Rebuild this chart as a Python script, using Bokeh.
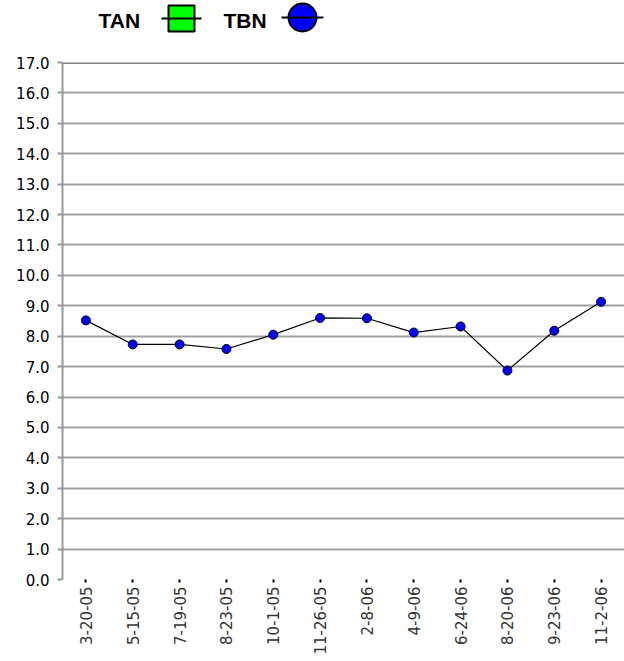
import math
from bokeh.plotting import figure
from bokeh.models import (FactorRange, Range1d, FixedTicker, Span,
                          NumeralTickFormatter, ColumnDataSource)
from bokeh.layouts import column
from bokeh.embed import file_html
from bokeh.resources import INLINE
from bokeh.core.properties import value

# ---- data ----
dates = ["3-20-05", "5-15-05", "7-19-05", "8-23-05", "10-1-05", "11-26-05",
         "2-8-06", "4-9-06", "6-24-06", "8-20-06", "9-23-06", "11-2-06"]
tbn = [8.52, 7.73, 7.73, 7.58, 8.05, 8.60, 8.59, 8.12, 8.32, 6.87, 8.18, 9.13]
tan = []  # no TAN readings in this chart
series_names = ["TAN", "TBN"]
series_fill = ["#00FF00", "#0000FF"]
series_marker = ["square", "circle"]
y_ticks = list(range(0, 18))

FONT = "DejaVu Sans"
W = 624
LEFT = 62
HDR_H = 40

# ---- header with legend keys (frame is aligned with the chart frame; x in page px) ----
hdr = figure(width=W, height=HDR_H, x_range=Range1d(LEFT, W), y_range=Range1d(HDR_H, 0),
             output_backend="svg", toolbar_location=None,
             min_border_left=LEFT, min_border_right=0,
             min_border_top=0, min_border_bottom=0)
hdr.axis.visible = False
hdr.grid.visible = False
hdr.outline_line_color = None

text_x = [98, 223]
key_x = [181, 302]
key_size = [26, 28]
key_half = [20, 21]
text_y = [20, 20]
key_y = [18, 17]
hdr.text(x=text_x, y=text_y, text=series_names, text_font=value("Liberation Sans"),
         text_font_style="bold", text_font_size="21px", text_baseline="middle",
         text_color="black")
hdr.scatter(x=key_x, y=key_y, marker=series_marker, size=key_size,
            fill_color=series_fill, line_color="black", line_width=2)
hdr.segment(x0=[k - h for k, h in zip(key_x, key_half)], y0=key_y,
            x1=[k + h for k, h in zip(key_x, key_half)], y1=key_y,
            line_color="black", line_width=2)

# ---- main chart ----
p = figure(x_range=FactorRange(*dates, range_padding=0), y_range=Range1d(0, 17),
           width=W, height=621, output_backend="svg", toolbar_location=None,
           min_border_left=LEFT, min_border_right=0, min_border_top=22, min_border_bottom=82)
p.outline_line_color = None
p.background_fill_color = "white"

# y axis
ya = p.yaxis[0]
ya.ticker = FixedTicker(ticks=y_ticks)
ya.formatter = NumeralTickFormatter(format="0.0")
ya.axis_line_color = "#999999"
ya.axis_line_width = 2
ya.major_tick_line_color = "#999999"
ya.major_tick_line_width = 2
ya.major_tick_out = 5
ya.major_tick_in = 0
ya.minor_tick_line_color = None
ya.major_label_text_font = FONT
ya.major_label_text_font_size = "15px"
ya.major_label_text_color = "black"
ya.major_label_standoff = 8

# x axis
xa = p.xaxis[0]
xa.axis_line_color = None
xa.major_tick_line_color = "black"
xa.major_tick_line_width = 2
xa.major_tick_out = 3
xa.major_tick_in = 0
xa.major_label_orientation = math.pi / 2
xa.major_label_text_font = FONT
xa.major_label_text_font_size = "15px"
xa.major_label_text_color = "#333333"
xa.major_label_standoff = 4

# grid
p.xgrid.visible = False
p.ygrid.ticker = FixedTicker(ticks=y_ticks[1:-1])
p.ygrid.grid_line_color = "#a0a0a0"
p.ygrid.grid_line_width = 2

# top border line at the end of the value range
p.add_layout(Span(location=p.y_range.end, dimension="width",
                  line_color="#808080", line_width=3))

# series
tan_src = ColumnDataSource(data=dict(x=[d for d in dates[:len(tan)]], y=tan))
p.line(x="x", y="y", source=tan_src, line_color="black", line_width=1)
p.scatter(x="x", y="y", source=tan_src, marker="square", size=9,
          fill_color=series_fill[0], line_color="black")

tbn_src = ColumnDataSource(data=dict(x=dates, y=tbn))
p.line(x="x", y="y", source=tbn_src, line_color="black", line_width=1.2)
p.scatter(x="x", y="y", source=tbn_src, marker="circle", size=9,
          fill_color=series_fill[1], line_color="black", line_width=1)

layout = column(hdr, p, spacing=0)
open("out.html", "w").write(file_html(layout, INLINE))
